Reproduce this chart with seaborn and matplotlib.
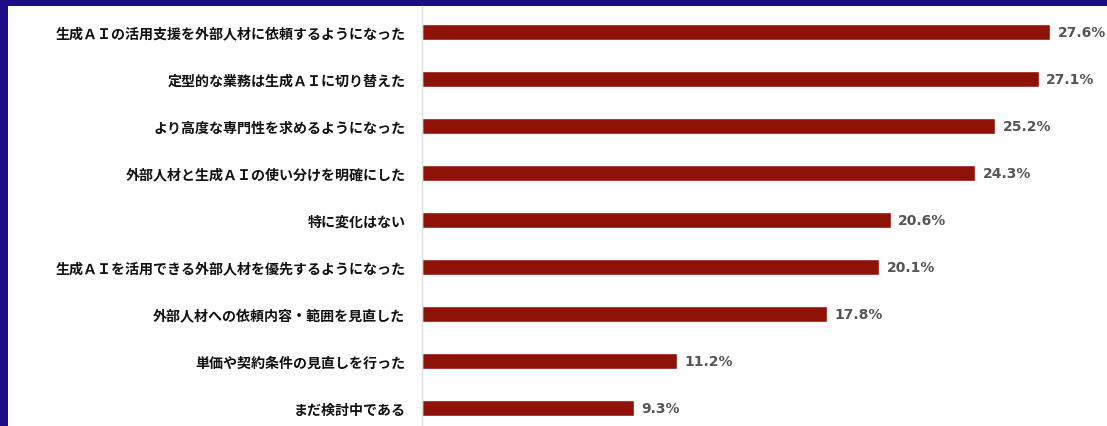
import matplotlib.pyplot as plt
import seaborn as sns
import pandas as pd
from matplotlib.patches import Rectangle

# Chart data
labels = [
    '生成ＡＩの活用支援を外部人材に依頼するようになった',
    '定型的な業務は生成ＡＩに切り替えた',
    'より高度な専門性を求めるようになった',
    '外部人材と生成ＡＩの使い分けを明確にした',
    '特に変化はない',
    '生成ＡＩを活用できる外部人材を優先するようになった',
    '外部人材への依頼内容・範囲を見直した',
    '単価や契約条件の見直しを行った',
    'まだ検討中である',
]
values = [27.6, 27.1, 25.2, 24.3, 20.6, 20.1, 17.8, 11.2, 9.3]

df = pd.DataFrame({'label': labels, 'value': values})

sns.set_theme(style='white')
plt.rcParams['font.family'] = ['Noto Sans CJK JP', 'DejaVu Sans']

W, H = 1107, 427
fig = plt.figure(figsize=(W / 100, H / 100), dpi=100, facecolor='#1b0c86')
# white panel inside the dark border (drawn below the axes)
fig.patches.append(Rectangle((8 / W, 0), 1 - 8 / W, 1 - 7 / H,
                             transform=fig.transFigure, facecolor='white',
                             edgecolor='none', zorder=-10))

ax = fig.add_axes([422 / W, 0, 1 - 422 / W, 1 - 7 / H])
ax.set_facecolor('none')

sns.barplot(data=df, x='value', y='label', color='#8e1208', width=0.36,
            saturation=1, ax=ax)

ax.set_xlim(0, (W - 422) / 22.75)
ax.set_ylim(8.383, -0.553)

for bar, v in zip(ax.patches, values):
    ax.annotate(f'{v:.1f}%', (bar.get_width(), bar.get_y() + bar.get_height() / 2),
                xytext=(5.5, 0), textcoords='offset points', va='center', ha='left',
                fontsize=10, fontweight='bold', color='#555555',
                family=['DejaVu Sans'])

ax.set_xlabel('')
ax.set_ylabel('')
ax.set_xticks([])
ax.tick_params(axis='y', length=0, pad=12)
for t in ax.get_yticklabels():
    t.set_fontsize(10.1)
    t.set_fontweight('bold')
    t.set_color('#111111')

for s in ['top', 'right', 'bottom']:
    ax.spines[s].set_visible(False)
ax.spines['left'].set_color('#dddddd')
ax.spines['left'].set_linewidth(1)

fig.savefig('out.png', dpi=100, facecolor=fig.get_facecolor())
